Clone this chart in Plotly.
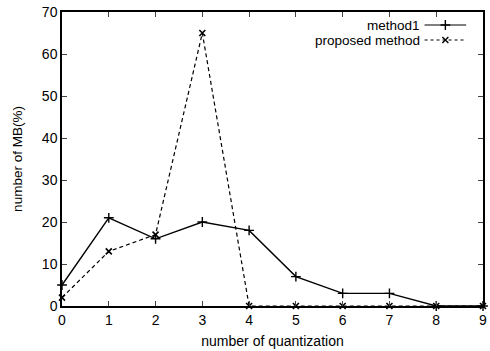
import plotly.graph_objects as go

x_vals = [0, 1, 2, 3, 4, 5, 6, 7, 8, 9]
method1 = [5, 21, 16, 20, 18, 7, 3, 3, 0, 0]
proposed = [2, 13, 17, 65, 0, 0, 0, 0, 0, 0]
series_names = ["method1", "proposed method"]

FONT = "Liberation Sans, Arial, sans-serif"

fig = go.Figure()
fig.add_trace(go.Scatter(x=x_vals, y=method1, mode="lines+markers", name=series_names[0],
                         line=dict(color="black", width=1.4),
                         marker=dict(symbol="cross-thin", size=7, line=dict(color="black", width=1.4)),
                         showlegend=False, cliponaxis=False))
fig.add_trace(go.Scatter(x=x_vals, y=proposed, mode="lines+markers", name=series_names[1],
                         line=dict(color="black", width=1.2, dash="4px,3px"),
                         marker=dict(symbol="x-thin", size=6, line=dict(color="black", width=1.6)),
                         showlegend=False, cliponaxis=False))

W, H = 490, 351
ml, mr, mt, mb = 62, 3, 12, 45
pw = W - ml - mr
ph = H - mt - mb

def px_x(p):
    return (p - ml) / pw

def px_y(p):
    return 1 - (p - mt) / ph

# manual legend (text on left, sample on right)
rows = [(25, series_names[0], "solid", "cross-thin", 7), (40, series_names[1], "3px,3px", "x-thin", 6)]
for yy, name, dash, sym, sz in rows:
    fig.add_annotation(x=px_x(425), y=px_y(yy), xref="paper", yref="paper", text=name,
                       showarrow=False, xanchor="right", yanchor="middle",
                       font=dict(family=FONT, size=13.5, color="black"))
    fig.add_shape(type="line", xref="paper", yref="paper", x0=px_x(428), x1=px_x(470),
                  y0=px_y(yy), y1=px_y(yy), line=dict(color="black", width=1.2, dash=dash))
    fig.add_trace(go.Scatter(x=[px_x(449)], y=[px_y(yy)], xaxis="x2", yaxis="y2", mode="markers",
                             marker=dict(symbol=sym, size=sz, line=dict(color="black", width=1.4)),
                             showlegend=False, hoverinfo="skip"))

fig.update_layout(
    width=W, height=H,
    margin=dict(l=ml, r=mr, t=mt, b=mb),
    paper_bgcolor="white", plot_bgcolor="white",
    font=dict(family=FONT, size=14, color="black"),
    xaxis=dict(range=[0, 9], tickvals=x_vals, ticks="inside", ticklen=5, tickwidth=1.2,
               showline=True, linecolor="black", linewidth=1.5, mirror="ticks",
               showgrid=False, zeroline=False,
               title=dict(text="number of quantization", font=dict(size=14), standoff=10),
               tickfont=dict(size=14)),
    yaxis=dict(range=[0, 70], tickvals=[0, 10, 20, 30, 40, 50, 60, 70], ticks="inside", ticklen=5, tickwidth=1.2,
               showline=True, linecolor="black", linewidth=1.5, mirror="ticks",
               showgrid=False, zeroline=False,
               title=dict(text="number of MB(%)", font=dict(size=13.5), standoff=16),
               tickfont=dict(size=14)),
    xaxis2=dict(range=[0, 1], overlaying="x", visible=False, domain=[0, 1]),
    yaxis2=dict(range=[0, 1], overlaying="y", visible=False),
    showlegend=False,
)

fig.write_html("out.html")
